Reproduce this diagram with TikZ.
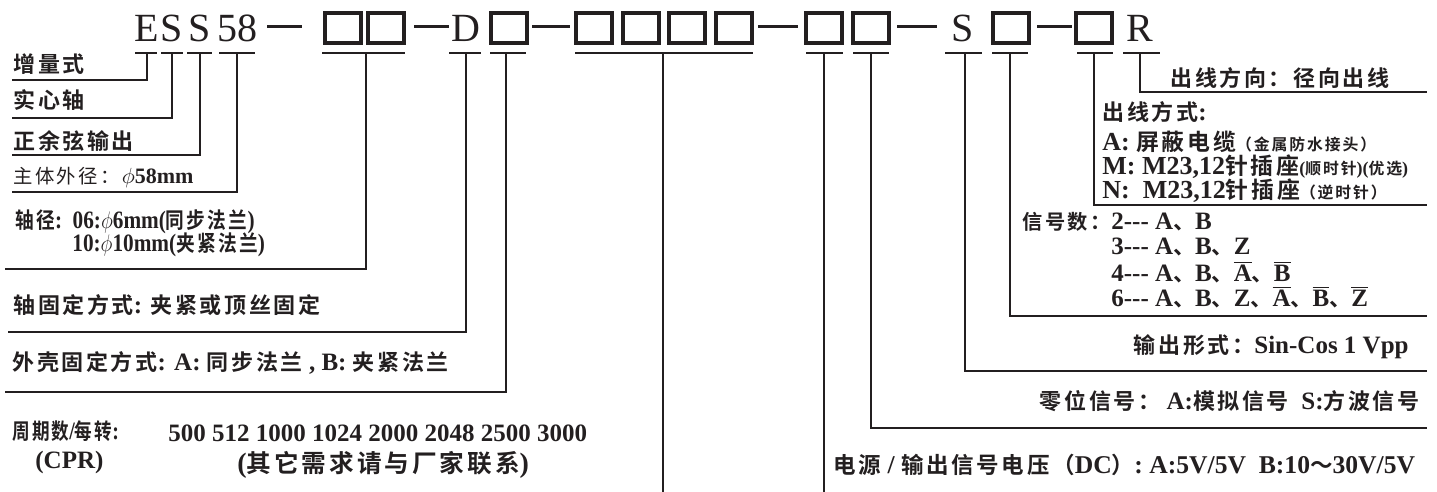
\documentclass[tikz,border=0pt]{standalone}
\usepackage{fontspec}
\setmainfont{Liberation Serif}
\newfontfamily\cjk{Noto Sans CJK SC}[Scale=0.88, LetterSpace=12, BoldFont={Noto Sans CJK SC Bold}]
\newcommand\zh[1]{{\cjk #1}}
\newcommand\cond[2]{\scalebox{#1}[1]{#2}}
\newcommand\inv[1]{$\overline{\mbox{#1}}$}
\newcommand\tri{-\kern0pt-\kern0pt-}
\newcommand\fsz[1]{\fontsize{#1}{#1}\selectfont}
\definecolor{ink}{RGB}{35,31,32}
\def\rowy{28}
\def\uly{53}
\def\edge{1427}
\tikzset{
    code/.style = {
        inner sep = 0,
        text = ink,
        font = \fsz{20}
    },
    codebox/.style = {
        draw = ink,
        line width = 1.6pt,
        minimum width = 18pt,
        minimum height = 15pt,
        inner sep = 0
    },
    hyph/.style = {draw = ink, line width = 1.5pt},
    uline/.style = {draw = ink, line width = 1.3pt},
    lead/.style = {draw = ink, line width = 0.9pt},
    note/.style = {
        anchor = west,
        inner sep = 0,
        text = ink,
        font = \bfseries\fsz{12.5}
    },
}

\begin{document}
\begin{tikzpicture}[x=0.5pt, y=-0.5pt]
    \useasboundingbox (0,0) rectangle (1437,492);

    \foreach \n/\x/\t in {e/147/E, s/172/S, ss/200/S, dia/237/58, d/466/D, zs/963/S, r/1140/R}
        \node[code] (c\n) at (\x,\rowy) {\t};
    \foreach \n/\x in {1/343, 2/386, 3/509, 4/594, 5/641, 6/687, 7/734, 8/824, 9/871, 10/1011, 11/1094}
        \node[codebox] (b\n) at (\x,\rowy) {};
    \foreach \xa/\xb in {267/302, 414/449, 532/570, 758/798, 897/937, 1037/1072}
        \draw[hyph] (\xa,27) -- (\xb,27);
    \foreach \xa/\xb in {135/157, 161/183, 187/212, 219/255, 322/405, 449/481, 490/526,
                         575/753, 806/843, 853/889, 945/982, 992/1028, 1077/1113, 1123/1160}
        \draw[uline] (\xa,\uly) -- (\xb,\uly);

    \foreach \n/\xt/\xe/\ye in {inc/147/12/80, shaft/172/12/118, sine/200/12/155, dia/237/12/192,
                                sdia/366/5/269, sfix/466/8/332, hfix/506/5/392, cpr/663/663/492,
                                volt/824/824/492, zero/871/\edge/428, out/965/\edge/371,
                                sig/1010/\edge/316, conn/1094/\edge/205, dir/1140/\edge/92}{
        \coordinate (t\n) at (\xt,\uly);
        \coordinate (e\n) at (\xe,\ye);
        \draw[lead] (t\n) |- (e\n);
    }

    \node[note] (nInc) at (13,64) {\zh{增量式}};
    \node[note] (nShaft) at (13,100) {\zh{实心轴}};
    \node[note] (nSine) at (13,141) {\zh{正余弦输出}};
    \node[note, font=\fsz{11}] (nDia) at (13,177) {\zh{主体外径：}\textbf{$\phi$58mm}};
    \node[note] (nSdia) at (15,222) {\cond{0.85}{\zh{轴径}:\ \ 06:$\phi$6mm(\zh{同步法兰})}};
    \node[note] (nSdiaB) at (72,245) {\cond{0.85}{10:$\phi$10mm(\zh{夹紧法兰})}};
    \node[note] (nSfix) at (13,305) {\zh{轴固定方式}: \zh{夹紧或顶丝固定}};
    \node[note] (nHfix) at (12,363) {\zh{外壳固定方式}: A: \zh{同步法兰} , B: \zh{夹紧法兰}};
    \node[note] (nCpr) at (12,431) {\cond{0.8}{\zh{周期数}/\zh{每转}:}};
    \node[note] (nCprB) at (35,462) {(CPR)};
    \node[note] (nCprVal) at (168,433) {500 512 1000 1024 2000 2048 2500 3000};
    \node[note, font=\bfseries\fsz{14}] (nCprNote) at (237,465) {(\zh{其它需求请与厂家联系})};

    \node[note, font=\bfseries\fsz{12.8}] (nVolt) at (833,465) {\zh{电源} / \zh{输出信号电压（}DC\zh{）}: A:5V/5V\ \ B:10\zh{～}30V/5V};
    \node[note, anchor=east] (nZero) at (1420,401) {\zh{零位信号：}\ A:\zh{模拟信号}\ \ S:\zh{方波信号}};
    \node[note, anchor=east] (nOut) at (1409,347) {\zh{输出形式：}Sin-Cos 1 Vpp};

    \node[note, font=\bfseries\fsz{11.5}] (nSig) at (1022,222) {\zh{信号数：}};
    \node[note] (nSig2) at (1111,222) {2\tri\ A\zh{、}B};
    \node[note] (nSig3) at (1111,247) {3\tri\ A\zh{、}B\zh{、}Z};
    \node[note] (nSig4) at (1111,272) {4\tri\ A\zh{、}B\zh{、}\inv{A}\zh{、}\inv{B}};
    \node[note] (nSig6) at (1111,297) {6\tri\ A\zh{、}B\zh{、}Z\zh{、}\inv{A}\zh{、}\inv{B}\zh{、}\inv{Z}};

    \node[note] (nConn) at (1102,112) {\zh{出线方式}:};
    \node[note, font=\bfseries\fsz{13}] (nConnA) at (1102,142) {A: \zh{屏蔽电缆}{\fsz{9}\zh{（金属防水接头）}}};
    \node[note, font=\bfseries\fsz{13}] (nConnM) at (1102,167) {M: M23,12\zh{针插座}{\fsz{9}(\zh{顺时针})(\zh{优选})}};
    \node[note, font=\bfseries\fsz{13}] (nConnN) at (1102,191) {N:\ \ M23,12\zh{针插座}{\fsz{9}\zh{（逆时针）}}};
    \node[note] (nDir) at (1170,78) {\zh{出线方向：径向出线}};
\end{tikzpicture}
\end{document}
